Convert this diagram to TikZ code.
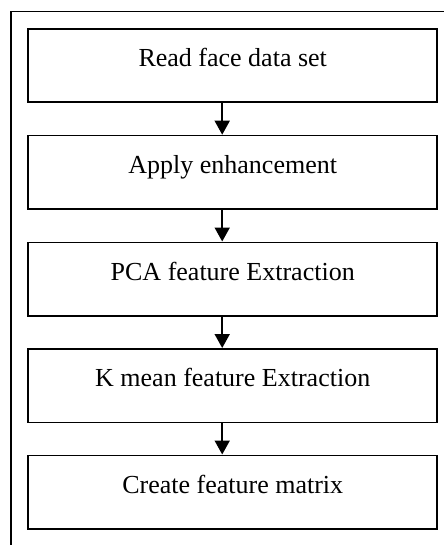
\documentclass[tikz,border=0pt]{standalone}
\usepackage{fontspec}
\setmainfont{Liberation Serif}
\usetikzlibrary{arrows.meta}
\begin{document}
\begin{tikzpicture}[x=1pt,y=-1pt,
  stepbox/.style={draw, line width=1.8pt, rectangle, inner sep=0pt,
    minimum width=409pt, minimum height=73.5pt,
    text height=37.7pt, text depth=35.8pt,
    font=\fontsize{26}{30}\selectfont, anchor=north},
  flow/.style={line width=1.8pt, -{Triangle[width=15pt,length=14pt]}}]
\useasboundingbox (0,0) rectangle (444,545);
% enclosing frame (left and top edges)
\draw[line width=1.8pt] (11,545) -- (11,11.5) -- (444,11.5);
% process steps
\node[stepbox] (b1) at (232.7,28)  {Read face data set};
\node[stepbox] (b2) at (232.7,134.7) {Apply enhancement};
\node[stepbox] (b3) at (232.7,241.5) {PCA feature Extraction};
\node[stepbox] (b4) at (232.7,348)  {K mean feature Extraction};
\node[stepbox] (b5) at (232.7,454.5) {Create feature matrix};
% connectors
\foreach \a/\b in {b1/b2,b2/b3,b3/b4,b4/b5}
  \draw[flow] ([xshift=-10.5pt]\a.south) -- ([xshift=-10.5pt]\b.north);
\end{tikzpicture}
\end{document}
